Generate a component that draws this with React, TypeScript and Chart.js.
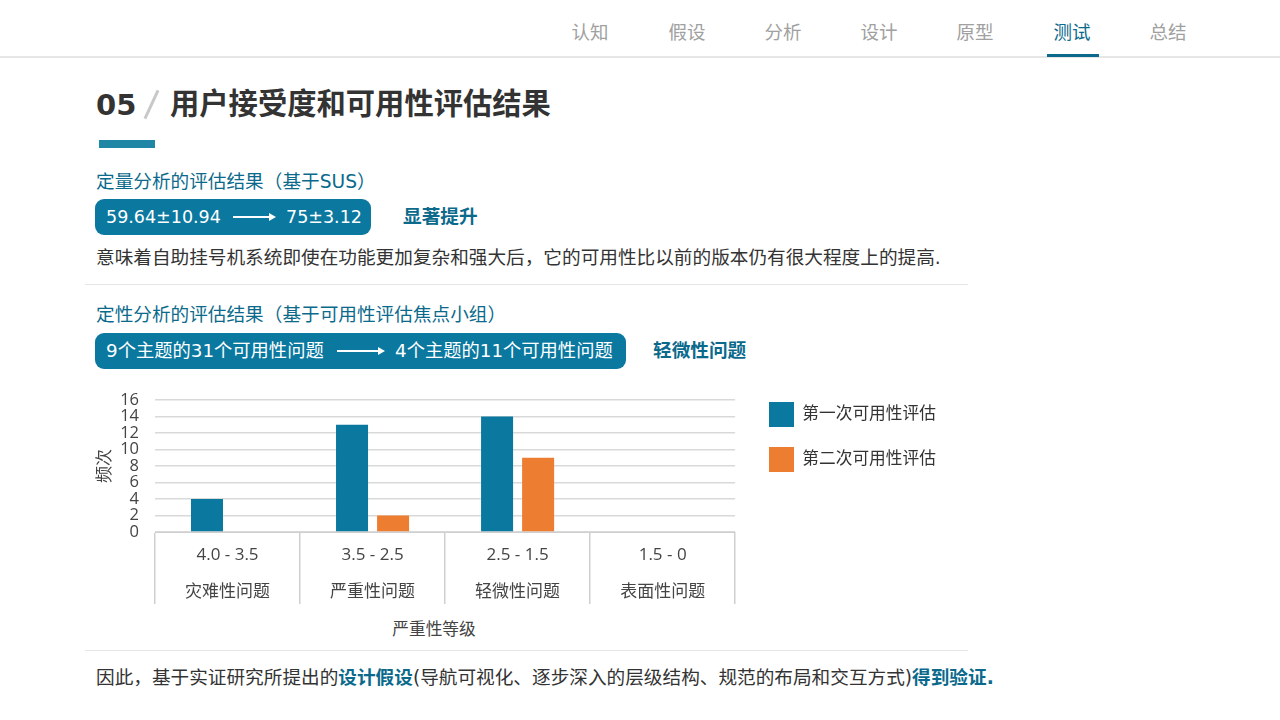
import React, { useEffect, useRef } from 'react';
import Chart from 'chart.js/auto';

const navItems = ['认知', '假设', '分析', '设计', '原型', '测试', '总结'];
const navCenters = [590, 687, 783, 879, 975, 1072, 1168];
const activeNav = '测试';

const scoreRanges = ['4.0 - 3.5', '3.5 - 2.5', '2.5 - 1.5', '1.5 - 0'];
const severityNames = ['灾难性问题', '严重性问题', '轻微性问题', '表面性问题'];
const firstRound = [4, 13, 14, 0];
const secondRound = [0, 2, 9, 0];
const yTicks = [0, 2, 4, 6, 8, 10, 12, 14, 16];

const FONT = '"DejaVu Sans", "Noto Sans CJK SC", sans-serif';
const CHART_FONT = '"Open Sans", "Noto Sans CJK SC", sans-serif';
const TEAL = '#0a789f';
const DARK_TEAL = '#0b6a8c';

// legend sits a bit off from where chart.js puts it
const moveLegend = {
  id: 'moveLegend',
  afterLayout(chart: any) {
    const l = chart.legend;
    const dx = 664 - l.left;
    const dy = -3 - l.top;
    l.left += dx;
    l.right += dx;
    l.top += dy;
    l.bottom += dy;
  },
};

const Txt: React.FC<{ x: number; y: number; size?: number; color?: string; bold?: boolean; center?: boolean; children: React.ReactNode }> = ({
  x, y, size = 18.65, color = '#333', bold = false, center = false, children,
}) => (
  <div
    style={{
      position: 'absolute',
      left: x,
      top: y,
      fontSize: size,
      color,
      fontWeight: bold ? 700 : 400,
      whiteSpace: 'nowrap',
      lineHeight: 1,
      transform: center ? 'translate(-50%, -50%)' : 'translateY(-50%)',
    }}
  >
    {children}
  </div>
);

const Box: React.FC<{ x: number; y: number; w: number; h: number; color: string; radius?: number }> = ({ x, y, w, h, color, radius = 0 }) => (
  <div style={{ position: 'absolute', left: x, top: y, width: w, height: h, background: color, borderRadius: radius }} />
);

const Arrow: React.FC<{ x: number; y: number; w: number }> = ({ x, y, w }) => (
  <>
    <Box x={x} y={y - 1} w={w - 6} h={2} color="#fff" />
    <div
      style={{
        position: 'absolute',
        left: x + w - 7,
        top: y - 4,
        width: 0,
        height: 0,
        borderTop: '4px solid transparent',
        borderBottom: '4px solid transparent',
        borderLeft: '7px solid #fff',
      }}
    />
  </>
);

const App: React.FC = () => {
  const chartRef = useRef<HTMLCanvasElement | null>(null);

  useEffect(() => {
    if (!chartRef.current) return;
    const chart = new Chart(chartRef.current, {
      type: 'bar',
      plugins: [moveLegend],
      data: {
        labels: scoreRanges.map((r, i) => [r, severityNames[i]]),
        datasets: [
          { label: '第一次可用性评估', data: firstRound, backgroundColor: TEAL, categoryPercentage: 0.566, barPercentage: 0.78 },
          { label: '第二次可用性评估', data: secondRound, backgroundColor: '#ed7d31', categoryPercentage: 0.566, barPercentage: 0.78 },
        ],
      },
      options: {
        animation: false,
        responsive: false,
        layout: { padding: { top: 15, bottom: 1, right: 28 } },
        plugins: {
          tooltip: { enabled: false },
          legend: {
            position: 'right',
            align: 'start',
            labels: {
              boxWidth: 25,
              boxHeight: 25,
              padding: 20,
              color: '#333',
              font: { family: CHART_FONT, size: 16.7 },
            },
          },
        },
        scales: {
          x: {
            offset: true,
            afterFit: (s: any) => { s.height = 72; },
            grid: {
              offset: true,
              drawOnChartArea: false,
              color: '#cfcfcf',
              lineWidth: 1.5,
              tickLength: 72,
            },
            border: { color: '#cfcfcf', width: 1 },
            ticks: {
              padding: -68,
              maxRotation: 0,
              color: '#444',
              font: { family: CHART_FONT, size: 17, lineHeight: 2.2 },
            },
          },
          y: {
            min: 0,
            max: 16,
            afterFit: (s: any) => {
              s.width = 70;
              s.paddingTop = 0;
              s.paddingBottom = 0;
            },
            afterBuildTicks: (s: any) => { s.ticks = yTicks.map((v) => ({ value: v })); },
            grid: { color: '#d9d9d9', lineWidth: 1.5, drawTicks: false },
            border: { display: false },
            title: {
              display: true,
              text: '频次',
              color: '#444',
              padding: { top: 10, bottom: 0 },
              font: { family: CHART_FONT, size: 17 },
            },
            ticks: {
              autoSkip: false,
              padding: 16,
              color: '#444',
              font: { family: CHART_FONT, size: 16.5 },
            },
          },
        },
      },
    } as any);
    return () => {
      chart.destroy();
    };
  }, []);

  return (
    <div style={{ position: 'absolute', left: 0, top: 0, width: 1280, height: 720, background: '#fff', overflow: 'hidden', fontFamily: FONT }}>
      <style>{'body{margin:0}'}</style>

      {navItems.map((n, i) => (
        <Txt key={n} x={navCenters[i]} y={32.5} size={18.5} center color={n === activeNav ? DARK_TEAL : '#a0a0a0'}>
          {n}
        </Txt>
      ))}
      <Box x={0} y={56} w={1280} h={1.5} color="#e6e6e6" />
      <Box x={1047} y={54} w={52} h={3} color={DARK_TEAL} />

      <Txt x={96} y={105} size={29} bold>05</Txt>
      <div style={{ position: 'absolute', left: 150, top: 89, width: 3, height: 31, background: '#c8c8c8', transform: 'rotate(25deg)' }} />
      <Txt x={170} y={105} size={29.3} bold>用户接受度和可用性评估结果</Txt>
      <Box x={99} y={140} w={56} h={8} color="#1f86a6" />

      <Txt x={96} y={182} color={DARK_TEAL}>定量分析的评估结果（基于SUS）</Txt>
      <Box x={95} y={199} w={276} h={36} radius={9} color={TEAL} />
      <Txt x={106} y={217.5} size={17.5} color="#fff">59.64±10.94</Txt>
      <Arrow x={233} y={217} w={43} />
      <Txt x={286} y={217.5} size={17.5} color="#fff">75±3.12</Txt>
      <Txt x={403} y={217} color={DARK_TEAL} bold>显著提升</Txt>
      <Txt x={96} y={258}>意味着自助挂号机系统即使在功能更加复杂和强大后，它的可用性比以前的版本仍有很大程度上的提高.</Txt>
      <Box x={85} y={284} w={883} h={1} color="#e6e6e6" />

      <Txt x={96} y={314.5} color={DARK_TEAL}>定性分析的评估结果（基于可用性评估焦点小组）</Txt>
      <Box x={95} y={333} w={531} h={36} radius={9} color={TEAL} />
      <Txt x={106} y={351} size={18.3} color="#fff">9个主题的31个可用性问题</Txt>
      <Arrow x={337} y={351} w={48} />
      <Txt x={395} y={351} size={18.3} color="#fff">4个主题的11个可用性问题</Txt>
      <Txt x={653} y={350.5} color={DARK_TEAL} bold>轻微性问题</Txt>

      <canvas ref={chartRef} width={875} height={220} style={{ position: 'absolute', left: 85, top: 385, width: 875, height: 220 }} />
      <Txt x={434} y={628.5} size={16.7} center color="#444">严重性等级</Txt>

      <Box x={85} y={650} w={883} h={1} color="#e6e6e6" />
      <Txt x={96} y={677.5}>
        因此，基于实证研究所提出的<b style={{ color: DARK_TEAL }}>设计假设</b>(导航可视化、逐步深入的层级结构、规范的布局和交互方式)<b style={{ color: DARK_TEAL }}>得到验证.</b>
      </Txt>
    </div>
  );
};

export default App;
